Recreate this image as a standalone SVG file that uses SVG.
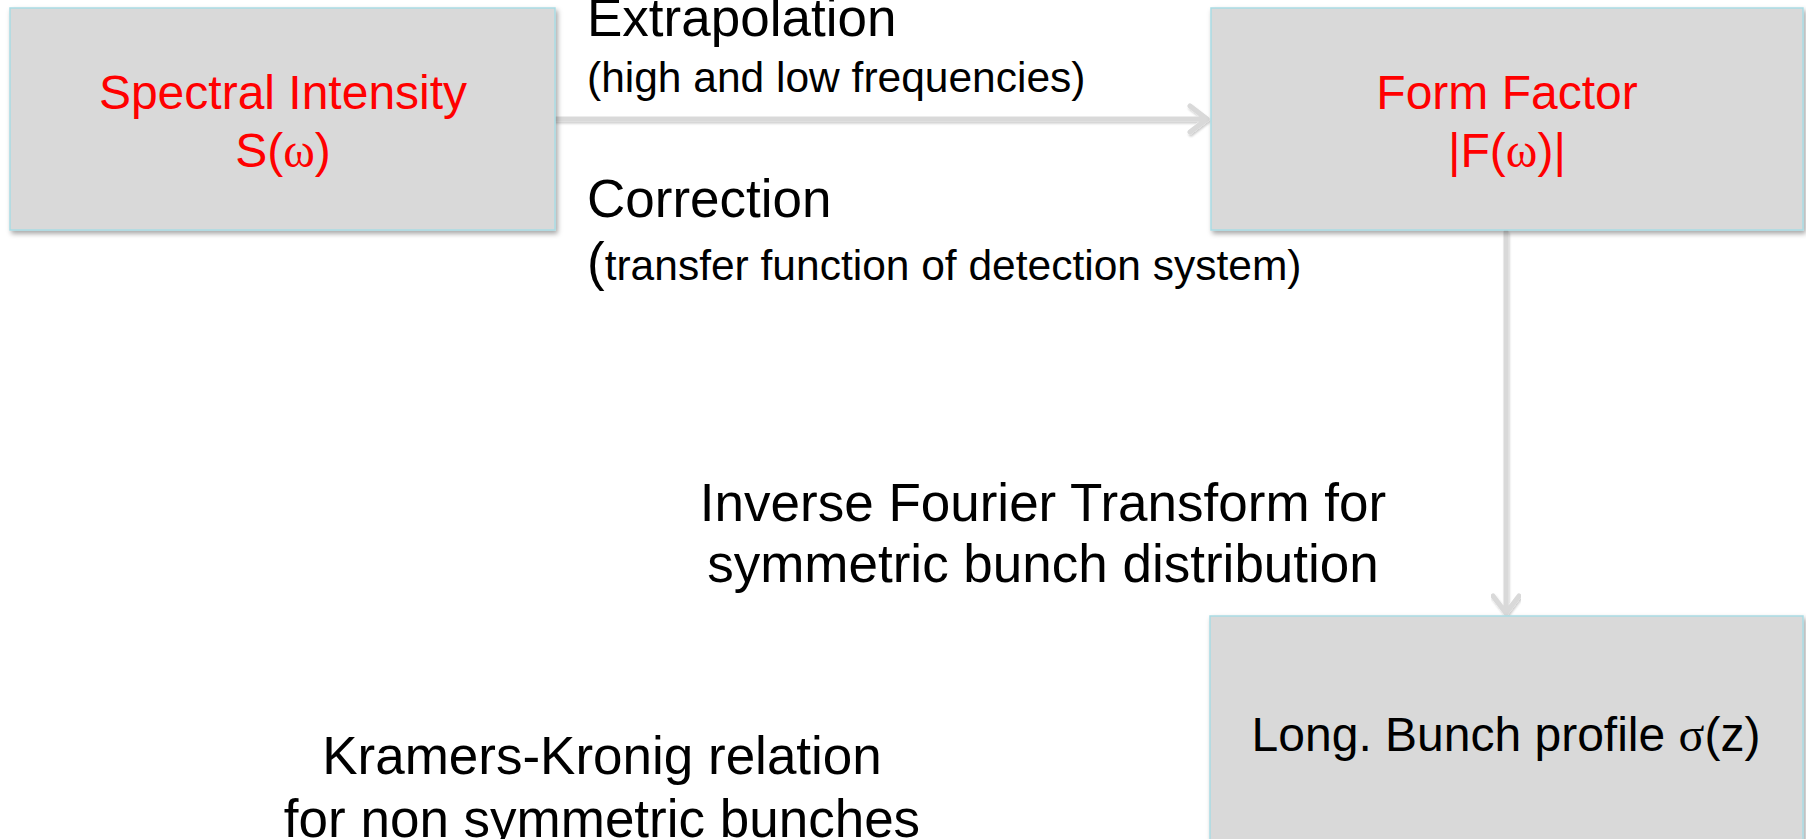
<svg xmlns="http://www.w3.org/2000/svg" width="1806" height="839" viewBox="0 0 1806 839">
<defs>
<filter id="sh" x="-5%" y="-5%" width="110%" height="115%">
<feDropShadow dx="2" dy="3" stdDeviation="2.5" flood-color="#000" flood-opacity="0.35"/>
</filter>
<filter id="ash" x="-5%" y="-50%" width="110%" height="200%">
<feDropShadow dx="1" dy="2" stdDeviation="1.2" flood-color="#000" flood-opacity="0.2"/>
</filter>
<style>
.box{fill:#d9d9d9;stroke:#a9dbe3;stroke-width:1.5;filter:url(#sh)}
.t{font-family:"Liberation Sans",Arial,sans-serif;text-anchor:middle}
.red{fill:#ff0000;font-size:48px}
.blk{fill:#000}
.sym{font-family:"Liberation Serif","Times New Roman",serif}
.conn{fill:none;stroke:#d9d9d9;stroke-width:5;stroke-linecap:round;stroke-linejoin:round;filter:url(#ash)}
.lbl{font-family:"Liberation Sans",Arial,sans-serif;fill:#000}
</style>
</defs>
<g id="connectors">
<path class="conn" d="M556 119 H1206 M1190 106 L1207 119 L1190 132"/>
<path class="conn" d="M1506 232 V613 M1493 596 L1506 613 L1519 596"/>
</g>
<g id="node-spectral">
<rect class="box" x="10" y="8" width="545" height="222"/>
<text class="t red" x="283" y="109">Spectral Intensity</text>
<text class="t red" x="283" y="167">S(<tspan class="sym">ω</tspan>)</text>
</g>
<g id="node-form">
<rect class="box" x="1211" y="8" width="592" height="222"/>
<text class="t red" x="1507" y="109">Form Factor</text>
<text class="t red" x="1507" y="167">|F(<tspan class="sym">ω</tspan>)|</text>
</g>
<g id="node-profile">
<rect class="box" x="1210" y="616" width="593" height="240"/>
<text class="t blk" x="1506" y="751" font-size="48">Long. Bunch profile <tspan class="sym">σ</tspan>(z)</text>
</g>
<g id="labels">
<text class="lbl" x="587" y="36" font-size="53">Extrapolation</text>
<text class="lbl" x="587" y="92" font-size="42.5">(high and low frequencies)</text>
<text class="lbl" x="587" y="217" font-size="53">Correction</text>
<text class="lbl" x="587" y="280" font-size="42.5"><tspan font-size="53">(</tspan>transfer function of detection system)</text>
<text class="lbl" x="1043" y="521" font-size="53" text-anchor="middle">Inverse Fourier Transform for</text>
<text class="lbl" x="1043" y="582" font-size="53" text-anchor="middle">symmetric bunch distribution</text>
<text class="lbl" x="602" y="774" font-size="53" text-anchor="middle">Kramers-Kronig relation</text>
<text class="lbl" x="602" y="837" font-size="53" text-anchor="middle">for non symmetric bunches</text>
</g>
</svg>
